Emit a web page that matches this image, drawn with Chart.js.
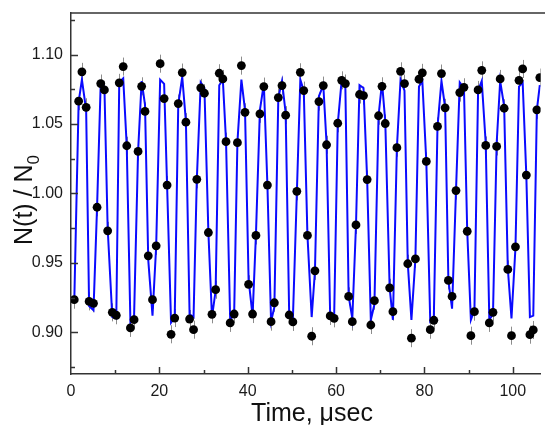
<!DOCTYPE html>
<html>
<head>
<meta charset="utf-8">
<title>N(t) / N0 oscillation</title>
<script src="https://cdn.jsdelivr.net/npm/chart.js@4.4.1/dist/chart.umd.min.js"></script>
<style>
  html, body { margin: 0; padding: 0; background: #ffffff; }
  #c { display: block; }
</style>
</head>
<body>
<canvas id="c" width="545" height="425"></canvas>
<script>
// Measurement times, microseconds
const TIME = [
  0.74, 1.73, 2.47, 3.43, 4.10, 5.09, 5.90, 6.73, 7.56, 8.30,
  9.35, 10.25, 10.92, 11.82, 12.62, 13.45, 14.28, 15.18, 15.99, 16.75,
  17.49, 18.45, 19.28, 20.18, 21.08, 21.75, 22.65, 23.48, 24.28, 25.18,
  26.01, 26.84, 27.74, 28.48, 29.37, 30.20, 31.10, 31.91, 32.74, 33.56,
  34.37, 35.09, 36.03, 36.93, 37.67, 38.57, 39.39, 40.20, 41.10, 41.86,
  42.76, 43.65, 44.46, 45.29, 46.03, 46.93, 47.76, 48.59, 49.39, 50.22,
  51.12, 51.91, 52.69, 53.52, 54.48, 55.22, 56.12, 57.11, 57.85, 58.68,
  59.57, 60.38, 61.28, 62.11, 62.85, 63.68, 64.51, 65.31, 66.21, 67.04,
  67.87, 68.68, 69.62, 70.40, 71.14, 72.13, 72.87, 73.77, 74.60, 75.49,
  76.23, 77.06, 77.96, 78.77, 79.53, 80.43, 81.32, 82.13, 82.96, 83.86,
  84.69, 85.43, 86.26, 87.15, 88.00, 88.95, 89.69, 90.52, 91.32, 92.15,
  92.98, 93.88, 94.69, 95.52, 96.35, 97.15, 98.05, 98.88, 99.71, 100.61,
  101.41, 102.24, 103.07, 103.88, 104.64, 105.45, 106.12
];

// Normalised counts N(t)/N0
const COUNTS = [
  0.9235, 1.0665, 1.0876, 1.0621, 0.9223, 0.9209, 0.9901, 1.0792, 1.0746, 0.9731,
  0.9144, 0.9123, 1.0797, 1.0914, 1.0344, 0.9032, 0.9091, 1.0303, 1.0772, 1.0591,
  0.9551, 0.9235, 0.9623, 1.0935, 1.0684, 1.0061, 0.8986, 0.9103, 1.0648, 1.0871,
  1.0514, 0.9096, 0.9019, 1.0102, 1.0761, 1.0722, 0.9719, 0.9130, 0.9307, 1.0866,
  1.0825, 1.0373, 0.9068, 0.9132, 1.0366, 1.0921, 1.0585, 0.9346, 0.9132, 0.9698,
  1.0574, 1.0770, 1.0061, 0.9077, 0.9213, 1.0691, 1.0777, 1.0564, 0.9125, 0.9075,
  1.0016, 1.0873, 1.0741, 0.9698, 0.8972, 0.9443, 1.0662, 1.0777, 1.0351, 0.9118,
  0.9101, 1.0506, 1.0815, 1.0792, 0.9259, 0.9077, 0.9774, 1.0713, 1.0705, 1.0100,
  0.9053, 0.9228, 1.0560, 1.0772, 1.0504, 0.9321, 0.9149, 1.0330, 1.0880, 1.0792,
  0.9494, 0.8958, 0.9529, 1.0823, 1.0869, 1.0231, 0.9019, 0.9087, 1.0483, 1.0864,
  1.0617, 0.9374, 0.9259, 1.0021, 1.0727, 1.0765, 0.9728, 0.8976, 0.9149, 1.0746,
  1.0887, 1.0346, 0.9068, 0.9144, 1.0339, 1.0825, 1.0614, 0.9453, 0.8976, 0.9616,
  1.0815, 1.0897, 1.0133, 0.8983, 0.9017, 1.0603, 1.0835
];

// Fitted curve evaluated at the same times
const FIT = [
  0.922, 1.066, 1.082, 1.060, 0.919, 0.916, 0.990, 1.080, 1.077, 0.975,
  0.911, 0.910, 1.080, 1.083, 1.034, 0.907, 0.912, 1.030, 1.081, 1.064,
  0.952, 0.912, 0.962, 1.082, 1.079, 1.006, 0.907, 0.911, 1.064, 1.084,
  1.052, 0.913, 0.911, 1.010, 1.080, 1.076, 0.972, 0.911, 0.930, 1.078,
  1.082, 1.038, 0.909, 0.913, 1.037, 1.082, 1.060, 0.938, 0.912, 0.970,
  1.060, 1.079, 1.006, 0.908, 0.918, 1.069, 1.081, 1.058, 0.913, 0.909,
  1.000, 1.082, 1.074, 0.970, 0.911, 0.944, 1.070, 1.078, 1.036, 0.910,
  0.912, 1.050, 1.082, 1.076, 0.926, 0.910, 0.977, 1.078, 1.076, 1.010,
  0.909, 0.920, 1.056, 1.080, 1.052, 0.932, 0.909, 1.033, 1.082, 1.074,
  0.950, 0.909, 0.953, 1.077, 1.081, 1.023, 0.908, 0.911, 1.048, 1.081,
  1.062, 0.937, 0.917, 1.002, 1.080, 1.076, 0.973, 0.909, 0.916, 1.074,
  1.081, 1.036, 0.909, 0.913, 1.036, 1.081, 1.063, 0.946, 0.910, 0.961,
  1.077, 1.080, 1.013, 0.911, 0.912, 1.060, 1.078
];

// Statistical uncertainty of each normalised count
const ERR = 0.0065;

const X_LABEL_STEP = 20;
const Y_LABEL_STEP = 0.05;

const FONT = "'Liberation Sans', Arial, Helvetica, sans-serif";
const AXIS_COLOR = '#333333';

const pointsData = TIME.map((t, i) => ({ x: t, y: COUNTS[i] }));
const fitData = TIME.map((t, i) => ({ x: t, y: FIT[i] }));

function isMultiple(v, step) {
  const r = v / step;
  return Math.abs(r - Math.round(r)) < 1e-6;
}

// Error bars under the markers, inward ticks, top frame line and axis titles
const decorations = {
  id: 'decorations',
  beforeDatasetsDraw(chart) {
    const { ctx, chartArea: a, scales: { x, y } } = chart;
    ctx.save();
    ctx.beginPath();
    ctx.rect(a.left, a.top, a.right - a.left, a.bottom - a.top);
    ctx.clip();
    ctx.strokeStyle = '#8c8c8c';
    ctx.lineWidth = 1;
    TIME.forEach((t, i) => {
      const px = Math.round(x.getPixelForValue(t)) + 0.5;
      ctx.beginPath();
      ctx.moveTo(px, y.getPixelForValue(COUNTS[i] + ERR));
      ctx.lineTo(px, y.getPixelForValue(COUNTS[i] - ERR));
      ctx.stroke();
    });
    ctx.restore();
  },
  afterDraw(chart) {
    const { ctx, chartArea: a, scales: { x, y } } = chart;
    ctx.save();
    ctx.strokeStyle = AXIS_COLOR;
    ctx.lineWidth = 1.5;

    // top frame line
    ctx.beginPath();
    ctx.moveTo(a.left, a.top);
    ctx.lineTo(chart.width, a.top);
    ctx.stroke();

    // inward ticks on the y axis
    y.ticks.forEach(tk => {
      const v = tk.value;
      if (v <= y.min + 1e-9 || v >= y.max - 1e-9) return;
      const len = isMultiple(v, Y_LABEL_STEP) ? 7 : 4;
      const py = Math.round(y.getPixelForValue(v)) + 0.5;
      ctx.beginPath();
      ctx.moveTo(a.left, py);
      ctx.lineTo(a.left + len, py);
      ctx.stroke();
    });

    // inward ticks on the x axis
    x.ticks.forEach(tk => {
      const v = tk.value;
      if (v <= x.min + 1e-9 || !isMultiple(v, 10)) return;
      const len = isMultiple(v, X_LABEL_STEP) ? 7 : 4;
      const px = Math.round(x.getPixelForValue(v)) + 0.5;
      ctx.beginPath();
      ctx.moveTo(px, a.bottom);
      ctx.lineTo(px, a.bottom - len);
      ctx.stroke();
    });

    // axis titles
    ctx.fillStyle = '#111111';
    ctx.textBaseline = 'alphabetic';
    ctx.font = '25px ' + FONT;
    ctx.textAlign = 'center';
    ctx.fillText('Time, \u03BCsec', 312, 421);

    const main = 'N(t) / N';
    const sub = '0';
    ctx.font = '25px ' + FONT;
    const wMain = ctx.measureText(main).width;
    ctx.font = '17px ' + FONT;
    const wSub = ctx.measureText(sub).width;
    const total = wMain + wSub;
    ctx.translate(32, 200);
    ctx.rotate(-Math.PI / 2);
    ctx.textAlign = 'left';
    ctx.font = '25px ' + FONT;
    ctx.fillText(main, -total / 2, 0);
    ctx.font = '17px ' + FONT;
    ctx.fillText(sub, -total / 2 + wMain, 7);
    ctx.restore();
  }
};

new Chart(document.getElementById('c'), {
  type: 'scatter',
  data: {
    datasets: [
      {
        label: 'fit',
        data: fitData,
        showLine: true,
        borderColor: '#0a0aff',
        borderWidth: 2,
        pointRadius: 0,
        tension: 0,
        fill: false,
        order: 2
      },
      {
        label: 'data',
        data: pointsData,
        showLine: false,
        pointRadius: 4.4,
        pointBackgroundColor: '#000000',
        pointBorderWidth: 0,
        order: 1
      }
    ]
  },
  options: {
    responsive: false,
    animation: false,
    devicePixelRatio: 1,
    layout: { padding: { top: 13, left: 0, right: 0, bottom: 0 } },
    plugins: {
      legend: { display: false },
      tooltip: { enabled: false }
    },
    scales: {
      x: {
        type: 'linear',
        min: 0,
        max: 106.3,
        grid: { display: false, drawTicks: false },
        border: { display: true, color: AXIS_COLOR, width: 1.5 },
        ticks: {
          stepSize: 10,
          includeBounds: false,
          autoSkip: false,
          maxRotation: 0,
          padding: 8,
          color: '#1a1a1a',
          font: { family: FONT, size: 16 },
          callback: v => isMultiple(v, X_LABEL_STEP) ? String(Math.round(v)) : ''
        },
        afterFit(scale) {
          scale.height = 51;
          scale.paddingLeft = 0;
          scale.paddingRight = 0;
        }
      },
      y: {
        type: 'linear',
        min: 0.87,
        max: 1.13,
        grid: { display: false, drawTicks: false },
        border: { display: true, color: AXIS_COLOR, width: 1.5 },
        ticks: {
          stepSize: 0.025,
          includeBounds: false,
          autoSkip: false,
          padding: 8,
          color: '#1a1a1a',
          font: { family: FONT, size: 16 },
          callback: v => isMultiple(v, Y_LABEL_STEP) ? v.toFixed(2) : ''
        },
        afterFit(scale) {
          scale.width = 71;
          scale.paddingTop = 0;
          scale.paddingBottom = 0;
        }
      }
    }
  },
  plugins: [decorations]
});
</script>
</body>
</html>
